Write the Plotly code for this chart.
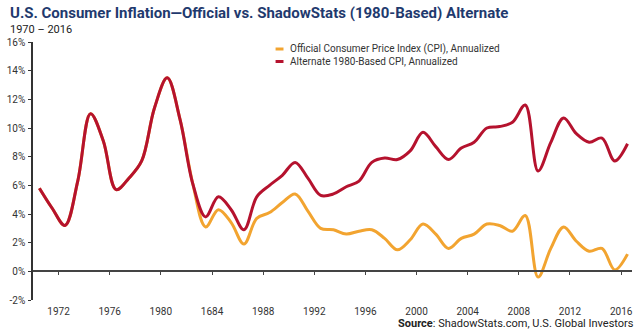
import plotly.graph_objects as go

# ---------------- data ----------------
years = list(range(1970, 2017))
official_cpi = [5.8, 4.4, 3.2, 6.3, 11.0, 9.1, 5.7, 6.5, 7.7, 11.4, 13.5, 10.6, 6.1,
                3.1, 4.3, 3.4, 1.9, 3.7, 4.1, 4.8, 5.4, 4.2, 3.0, 2.9, 2.6, 2.8, 2.9,
                2.3, 1.5, 2.2, 3.3, 2.6, 1.6, 2.3, 2.6, 3.3, 3.2, 2.8, 3.9, -0.4, 1.6,
                3.1, 2.1, 1.4, 1.6, 0.1, 1.2]
alternate_cpi = [5.8, 4.4, 3.2, 6.3, 11.0, 9.1, 5.7, 6.5, 7.7, 11.4, 13.5, 10.6, 6.1,
                 3.8, 5.2, 4.3, 2.9, 5.2, 6.0, 6.7, 7.6, 6.5, 5.3, 5.4, 5.9, 6.3, 7.6,
                 7.9, 7.8, 8.4, 9.7, 8.7, 7.8, 8.6, 9.0, 10.0, 10.1, 10.4, 11.6, 7.0, 9.0,
                 10.7, 9.6, 9.0, 9.3, 7.7, 8.9]
series_names = ["Official Consumer Price Index (CPI), Annualized",
                "Alternate 1980-Based CPI, Annualized"]
series_colors = ["#F2A430", "#B5122E"]
x_tick_vals = [1972, 1976, 1980, 1984, 1988, 1992, 1996, 2000, 2004, 2008, 2012, 2016]
x_tick_text = ["1972", "1976", "1980", "1684", "1988", "1992", "1996", "2000",
               "2004", "2008", "2012", "2016"]
y_tick_vals = [-2, 0, 2, 4, 6, 8, 10, 12, 14, 16]
y_tick_text = [f"{v}%" for v in y_tick_vals]
title_text = "U.S. Consumer Inflation\u2014Official vs. ShadowStats (1980-Based) Alternate"
subtitle_text = "1970 \u2013 2016"
source_text = "<b>Source</b>: ShadowStats.com, U.S. Global Investors"

# mid-year placement of annual values
x_mid = [y + 0.5 for y in years]

# ---------------- layout constants ----------------
W, H = 640, 331
ML, MR, MT, MB = 28, 7, 42, 31
PW, PH = W - ML - MR, H - MT - MB
Y_RANGE = [-2, 16]
X_RANGE = [1970, 2016.85]


def px_x(p):
    return (p - ML) / PW


def px_y(p):
    return (H - MB - p) / PH


fig = go.Figure()
for name, vals, col in zip(series_names, [official_cpi, alternate_cpi], series_colors):
    fig.add_trace(go.Scatter(
        x=x_mid, y=vals, mode="lines", name=name,
        line=dict(color=col, width=3, shape="spline", smoothing=1.0),
        showlegend=False, hoverinfo="skip"))

# secondary x axis drawn at y = 0 for the zero line + ticks
zero_pos = (0 - Y_RANGE[0]) / (Y_RANGE[1] - Y_RANGE[0])
fig.add_trace(go.Scatter(x=[X_RANGE[0]], y=[0], xaxis="x2", mode="markers",
                         marker=dict(opacity=0), showlegend=False, hoverinfo="skip"))

font_main = "Roboto, Arial, sans-serif"
fig.update_layout(
    width=W, height=H,
    margin=dict(l=ML, r=MR, t=MT, b=MB),
    paper_bgcolor="white", plot_bgcolor="white",
    font=dict(family=font_main, color="#333333", size=10),
    xaxis=dict(range=X_RANGE, tickvals=x_tick_vals, ticktext=x_tick_text,
               showgrid=False, zeroline=False, showline=False, ticks="",
               tickfont=dict(size=10, color="#333333"), ticklabelstandoff=4),
    xaxis2=dict(range=X_RANGE, overlaying="x", anchor="free", position=zero_pos,
                tickvals=x_tick_vals, showticklabels=False, showgrid=False,
                zeroline=False, showline=True, linecolor="#444444", linewidth=1.5,
                ticks="outside", ticklen=3, tickwidth=1, tickcolor="#444444"),
    yaxis=dict(range=Y_RANGE, tickvals=y_tick_vals, ticktext=y_tick_text,
               showgrid=False, zeroline=False, showline=True, linecolor="#333333",
               linewidth=1.5, ticks="outside", ticklen=3, tickwidth=1,
               tickcolor="#333333", tickfont=dict(size=10, color="#333333"),
               ticklabelstandoff=1),
)

annotations = [
    dict(text=f"<b>{title_text}</b>", xref="paper", yref="paper",
         x=px_x(3), y=px_y(12.5), xanchor="left", yanchor="middle", showarrow=False,
         font=dict(size=15, color="#1F3A6E", family=font_main)),
    dict(text=subtitle_text, xref="paper", yref="paper",
         x=px_x(3), y=px_y(30), xanchor="left", yanchor="middle", showarrow=False,
         font=dict(size=11, color="#222222", family=font_main)),
    dict(text=source_text, xref="paper", yref="paper",
         x=px_x(637), y=px_y(323), xanchor="right", yanchor="middle", showarrow=False,
         font=dict(size=11, color="#222222", family=font_main)),
]
shapes = []
for i, (name, col) in enumerate(zip(series_names, series_colors)):
    yc = 49 + i * 12.5
    shapes.append(dict(type="line", xref="paper", yref="paper",
                       x0=px_x(273), x1=px_x(281), y0=px_y(yc), y1=px_y(yc),
                       line=dict(color=col, width=3)))
    annotations.append(dict(text=name, xref="paper", yref="paper",
                            x=px_x(286), y=px_y(yc), xanchor="left", yanchor="middle",
                            showarrow=False,
                            font=dict(size=10, color="#333333", family=font_main)))
fig.update_layout(annotations=annotations, shapes=shapes)

fig.write_html("out.html")
